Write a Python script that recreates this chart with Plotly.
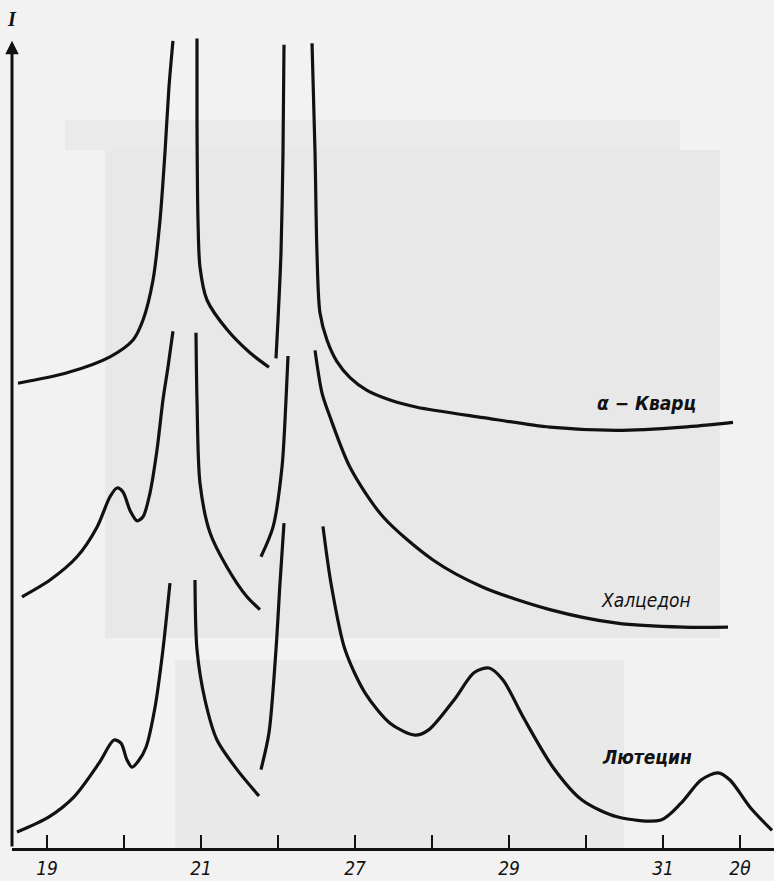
import plotly.graph_objects as go

# x in tick-step units (tick 0 = "19"), I in arbitrary intensity units
tick_positions = [0, 1, 2, 3, 4, 5, 6, 7, 8, 9]
tick_labels = ["19", "", "21", "", "27", "", "29", "", "31", "2θ"]

# α-Кварц : four branches (peaks run off the top)
quartz_x = [
    [-0.377, 0.260, 0.818, 1.117, 1.247, 1.377, 1.468, 1.532, 1.584, 1.636],
    [1.948, 1.948, 1.961, 1.987, 2.078, 2.338, 2.636, 2.883],
    [2.974, 3.000, 3.039, 3.065, 3.078],
    [3.442, 3.481, 3.506, 3.545, 3.636, 3.766, 3.935, 4.156, 4.455, 4.805,
     5.662, 6.532, 7.403, 8.260, 8.909],
]
quartz_I = [
    [58.1, 59.4, 61.4, 63.5, 66.0, 71.0, 78.5, 86.9, 95.1, 100.9],
    [101.2, 91.0, 78.5, 72.6, 68.5, 64.8, 61.9, 60.1],
    [61.2, 66.0, 74.4, 86.9, 100.4],
    [100.6, 86.9, 74.4, 66.9, 63.5, 60.8, 58.8, 57.2, 56.0, 55.1,
     53.8, 52.6, 52.2, 52.6, 53.2],
]

# Халцедон
chalc_x = [
    [-0.325, 0.039, 0.390, 0.649, 0.818, 0.909, 0.987, 1.078, 1.169, 1.247,
     1.338, 1.429, 1.506, 1.571, 1.636],
    [1.935, 1.948, 1.987, 2.117, 2.338, 2.597, 2.766],
    [2.779, 2.935, 3.052, 3.104, 3.130],
    [3.481, 3.571, 3.675, 3.935, 4.364, 5.013, 5.662, 6.532, 7.403, 8.260, 8.844],
]
chalc_I = [
    [31.4, 33.5, 36.4, 40.1, 43.9, 45.0, 44.5, 42.2, 40.9, 41.4,
     44.4, 49.8, 56.0, 60.1, 64.6],
    [64.4, 56.0, 45.6, 39.4, 35.1, 31.4, 29.8],
    [36.4, 40.1, 47.6, 56.0, 61.5],
    [62.2, 56.9, 53.9, 47.6, 41.4, 36.0, 32.6, 29.8, 28.1, 27.6, 27.6],
]

# Лютецин
lut_x = [
    [-0.390, 0.026, 0.351, 0.675, 0.870, 0.961, 1.039, 1.104, 1.182, 1.286,
     1.403, 1.506, 1.597],
    [1.922, 1.948, 2.052, 2.208, 2.468, 2.753],
    [2.779, 2.883, 2.974, 3.026, 3.078],
    [3.584, 3.688, 3.870, 4.130, 4.455, 4.779, 4.961, 5.286, 5.545, 5.740,
     5.922, 6.182, 6.571, 6.948, 7.403, 7.974, 8.234, 8.494, 8.714, 8.870,
     9.130, 9.416],
]
lut_I = [
    [2.0, 3.9, 6.4, 10.6, 13.5, 13.1, 11.0, 10.1, 10.8, 12.6,
     17.6, 24.8, 33.1],
    [33.5, 24.8, 18.5, 13.5, 9.8, 6.5],
    [9.8, 14.4, 24.8, 33.1, 40.6],
    [40.2, 33.1, 24.8, 19.4, 15.6, 14.1, 14.8, 18.5, 21.9, 22.5,
     21.0, 16.4, 10.1, 6.0, 3.9, 3.5, 5.6, 8.5, 9.4, 8.5,
     5.1, 2.2],
]

series_names = ["α − Кварц", "Халцедон", "Лютецин"]
label_x = [7.79, 7.78, 7.79]
label_I = [55.6, 31.0, 11.4]
label_weight = ["bold", "normal", "bold"]

X_MIN, X_MAX = -0.4545, 9.4416
I_MIN, I_MAX = 0.0, 106.0
I_AXIS_TOP = 100.9


def joined(seg_x, seg_y):
    xs, ys = [], []
    for sx, sy in zip(seg_x, seg_y):
        xs += list(sx) + [None]
        ys += list(sy) + [None]
    return xs, ys


fig = go.Figure()
for name, sx, sy in zip(series_names,
                        [quartz_x, chalc_x, lut_x],
                        [quartz_I, chalc_I, lut_I]):
    xs, ys = joined(sx, sy)
    fig.add_trace(go.Scatter(
        x=xs, y=ys, mode="lines", name=name, connectgaps=False,
        line=dict(color="#111111", width=3.2, shape="spline", smoothing=0.8),
        hoverinfo="skip", showlegend=False, cliponaxis=True,
    ))

narrow = "DejaVu Sans Condensed, Liberation Sans Narrow, Arial Narrow, sans-serif"

for name, lx, ly, w in zip(series_names, label_x, label_I, label_weight):
    fig.add_annotation(
        x=lx, y=ly, xref="x", yref="y", text=name, showarrow=False,
        font=dict(family=narrow, size=19, color="#111111", style="italic",
                  weight=w),
    )

# y axis with arrow
fig.add_annotation(
    x=X_MIN, y=I_AXIS_TOP, ax=X_MIN, ay=0, xref="x", yref="y",
    axref="x", ayref="y", text="", showarrow=True,
    arrowhead=2, arrowsize=0.9, arrowwidth=3, arrowcolor="#111111",
)
fig.add_annotation(
    x=X_MIN, y=103.6, xref="x", yref="y", text="I", showarrow=False,
    font=dict(family="Liberation Serif, DejaVu Serif, serif", size=20,
              color="#111111", style="italic", weight="bold"),
)

# faint scan patches in the background
patches = [
    (65, 120, 680, 150, "#eaeaea"),
    (105, 150, 720, 638, "#e8e8e8"),
    (175, 660, 624, 848, "#e9e9e9"),
]
for x0, y0, x1, y1, col in patches:
    fig.add_shape(type="rect", xref="x", yref="y", layer="below",
                  x0=(x0 - 47) / 77, x1=(x1 - 47) / 77,
                  y0=(848 - y1) / 8, y1=(848 - y0) / 8,
                  fillcolor=col, line=dict(width=0))

fig.update_layout(
    width=774, height=881,
    margin=dict(l=12, r=0, t=0, b=33),
    paper_bgcolor="#f2f2f2", plot_bgcolor="#f2f2f2",
    showlegend=False,
)
fig.update_xaxes(
    range=[X_MIN, X_MAX], showgrid=False, zeroline=False,
    showline=True, linecolor="#111111", linewidth=3,
    tickmode="array", tickvals=tick_positions, ticktext=tick_labels,
    ticks="inside", ticklen=13, tickwidth=2, tickcolor="#111111",
    ticklabelstandoff=1,
    tickfont=dict(family=narrow, size=19, color="#111111", style="italic"),
    automargin=False,
)
fig.update_yaxes(
    range=[I_MIN, I_MAX], showgrid=False, zeroline=False,
    showline=False, showticklabels=False, ticks="",
)

fig.write_html(
    "out.html",
    config={"displayModeBar": False},
    post_script="document.body.style.margin='0';"
                "document.body.style.background='#f2f2f2';"
                "document.body.style.overflow='hidden';",
)
